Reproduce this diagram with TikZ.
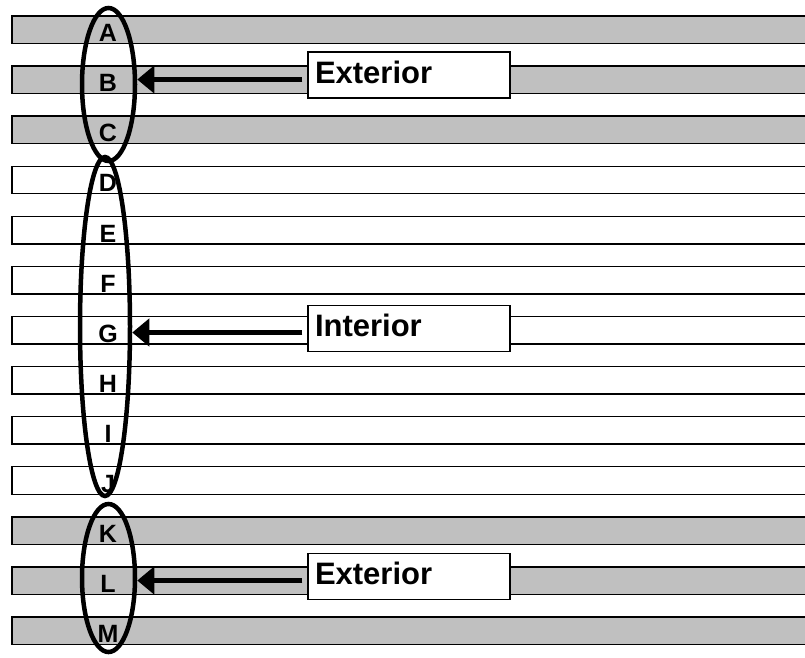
\documentclass[tikz,border=0pt]{standalone}
\usepackage{fontspec}
\setmainfont{Liberation Sans}
\usetikzlibrary{shapes.geometric,arrows.meta}
\definecolor{bargray}{HTML}{C0C0C0}
\tikzset{
  barfill/.style={draw=black,line width=1.6pt,fill=bargray},
  barwhite/.style={draw=black,line width=1.4pt,fill=white},
  letter/.style={font=\bfseries\fontsize{25}{25}\selectfont,inner sep=0pt,text height=18pt,text depth=0pt},
  ring/.style={ellipse,draw=black,line width=4.5pt,inner sep=0pt},
  labelbox/.style={draw=black,line width=1.5pt,fill=white,minimum width=202pt,minimum height=46pt,
    inner xsep=7pt,inner ysep=0pt,text width=188pt,align=left,
    font=\bfseries\fontsize{31}{31}\selectfont,text height=22.5pt,text depth=6.5pt},
  pointer/.style={line width=4.5pt,-{Triangle[length=17pt,width=27pt]},shorten <=5pt}
}
\begin{document}
\begin{tikzpicture}[x=1pt,y=-1pt]
\useasboundingbox (0,0) rectangle (805,657);
\begin{scope}
\clip (0,0) rectangle (805,657);
% bars
\foreach \k/\s in {0/barfill,1/barfill,2/barfill,3/barwhite,4/barwhite,5/barwhite,6/barwhite,7/barwhite,8/barwhite,9/barwhite,10/barfill,11/barfill,12/barfill}{
  \pgfmathsetmacro{\top}{16+50.08*\k}
  \draw[\s] (12,\top) rectangle (812,\top+27.5);
}
\end{scope}
% letters
\foreach \k/\l in {0/A,1/B,2/C,3/D,4/E,5/F,6/G,7/H,8/I,9/J,10/K,11/L,12/M}{
  \pgfmathsetmacro{\cy}{16+50.08*\k+13.75+3}
  \node[letter] (let\l) at (108,\cy) {\l};
}
% ellipses
\node[ring,minimum width=53pt,minimum height=153pt] (ringtop) at (108.5,84.5) {};
\node[ring,minimum width=50pt,minimum height=339pt] (ringmid) at (105,326.5) {};
\node[ring,minimum width=53pt,minimum height=148pt] (ringbot) at (108.5,578) {};
% boxes
\node[labelbox] (boxtop) at (409,75) {Exterior};
\node[labelbox] (boxmid) at (409,328.5) {Interior};
\node[labelbox] (boxbot) at (409,576.5) {Exterior};
% arrows
\coordinate (ytop) at (0,79.5);
\coordinate (ymid) at (0,332.5);
\coordinate (ybot) at (0,580.5);
\draw[pointer] (boxtop.west |- ytop) -- (ringtop.east |- ytop);
\draw[pointer] (boxmid.west |- ymid) -- (ringmid.east |- ymid);
\draw[pointer] (boxbot.west |- ybot) -- (ringbot.east |- ybot);
\end{tikzpicture}
\end{document}
